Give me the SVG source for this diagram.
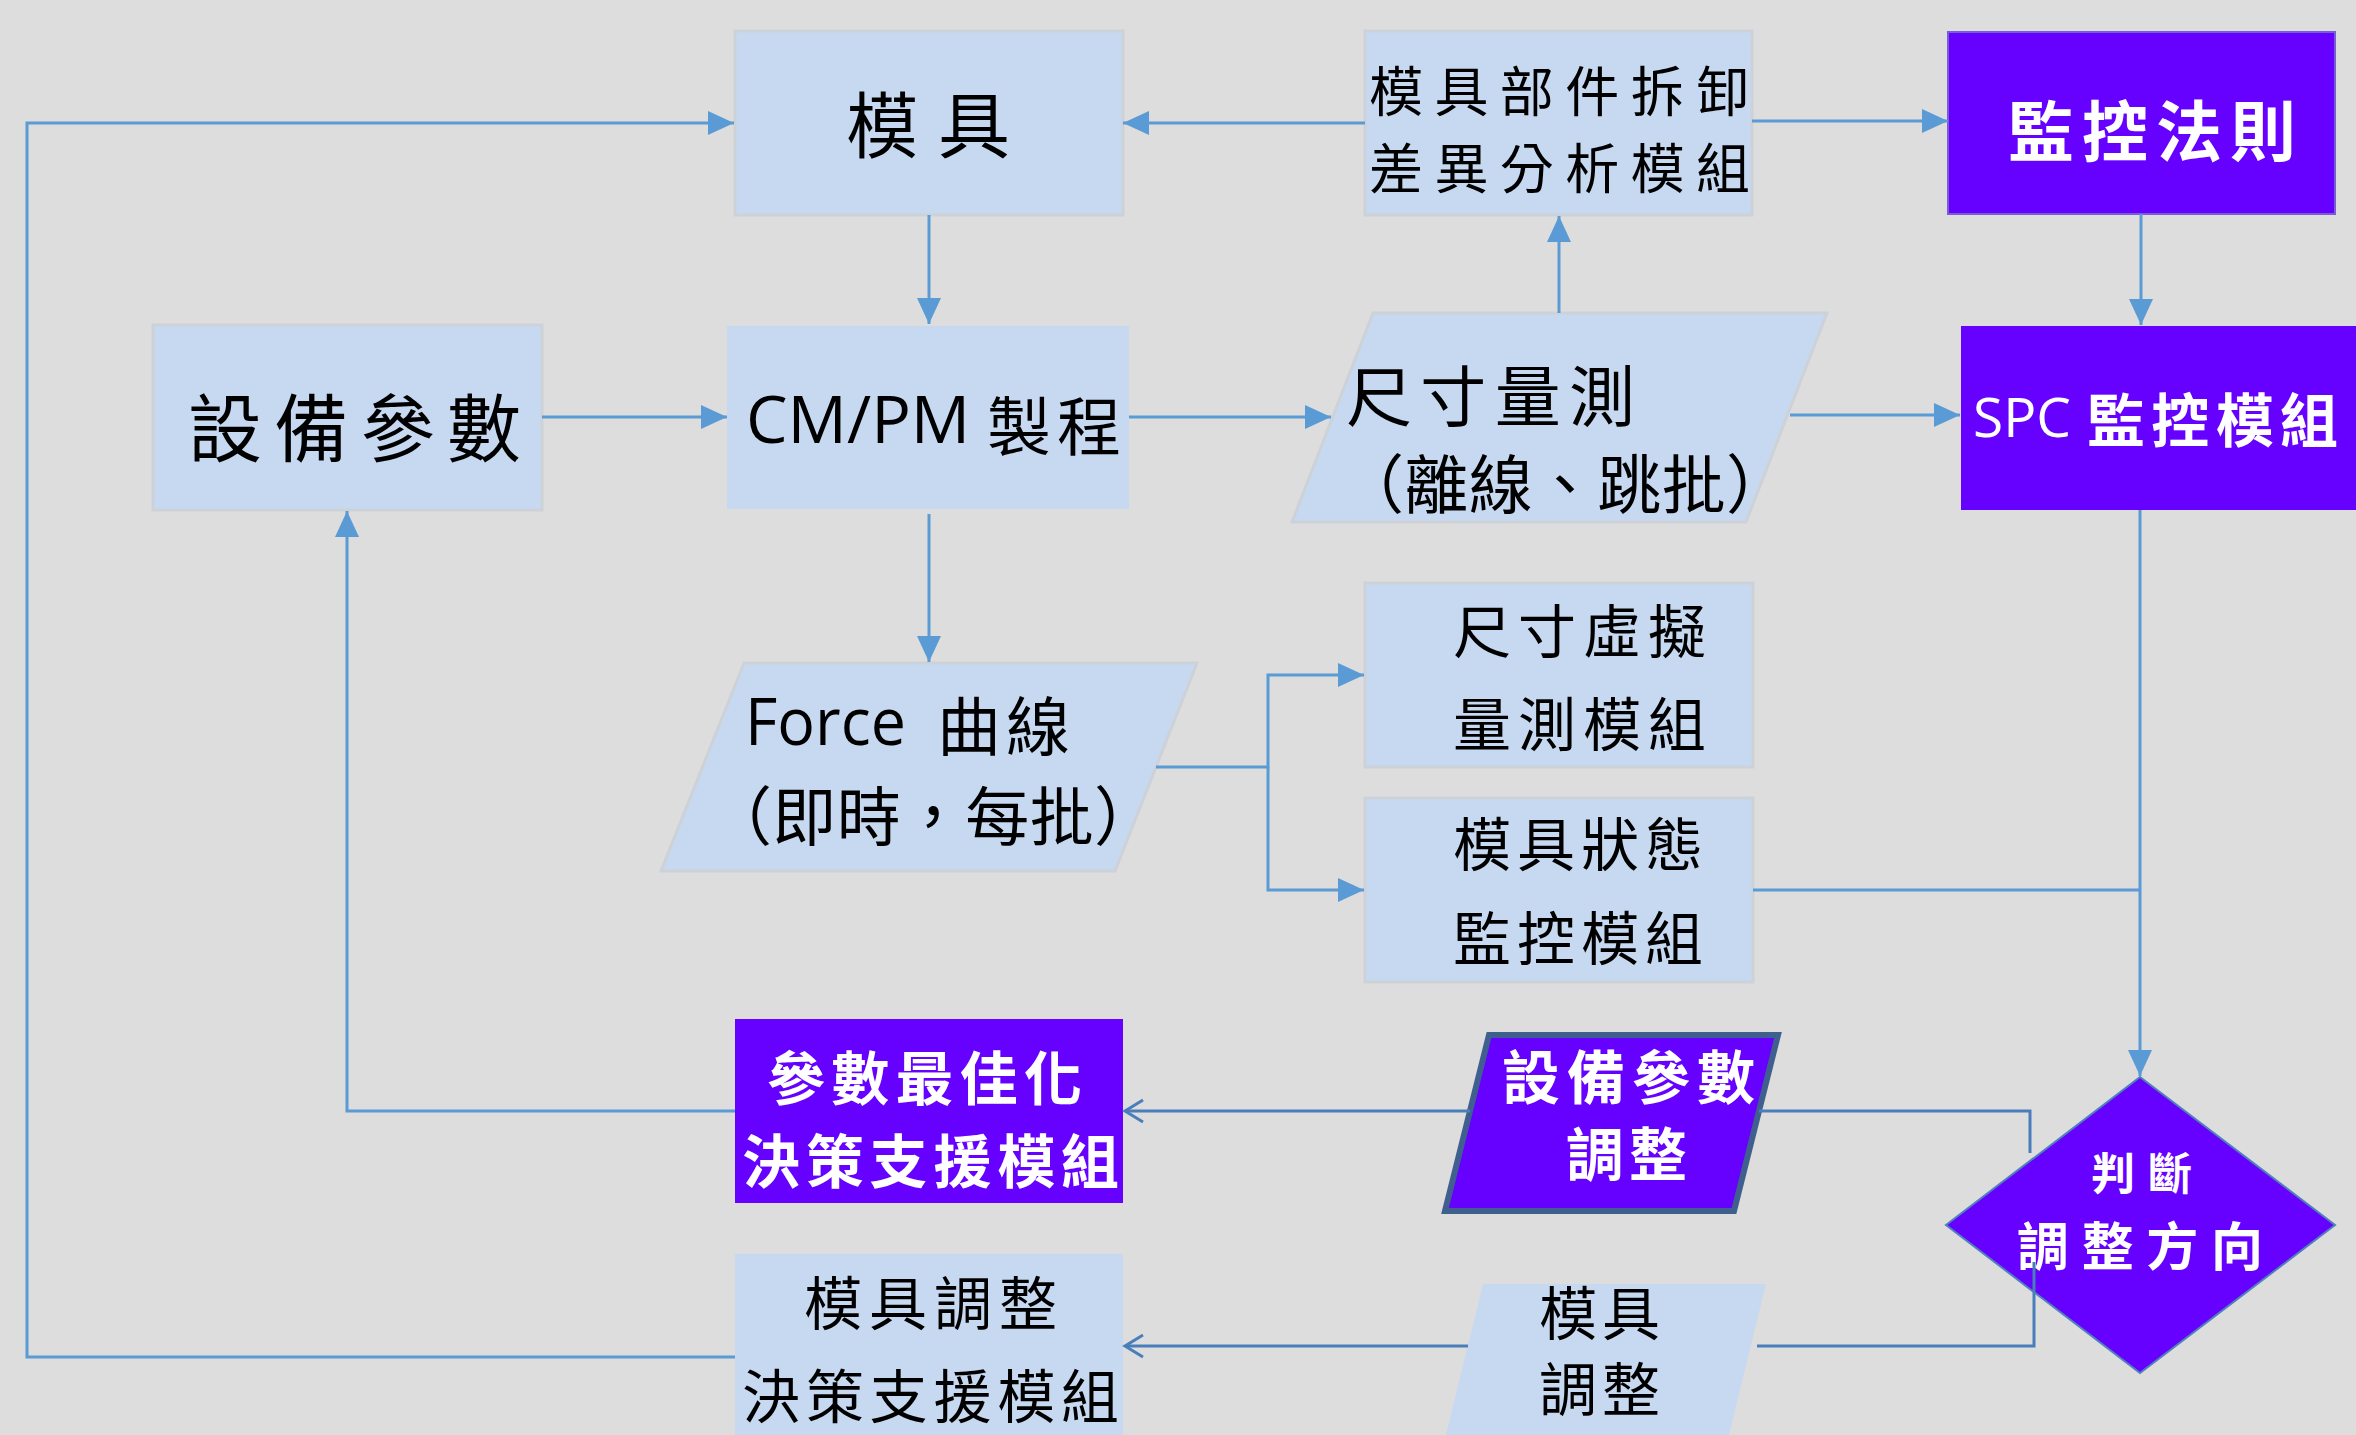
<svg xmlns="http://www.w3.org/2000/svg" width="2356" height="1435" viewBox="0 0 2356 1435">
<defs>
<style>
.bg{fill:#DDDDDD}
.lb{fill:#C6D9F0;stroke:#CDD2D9;stroke-width:3}
.pu{fill:#6600FF;stroke:#7A5CD6;stroke-width:2}
.cj{font-family:"Noto Sans CJK TC","Noto Sans CJK SC",sans-serif;fill:#000}
.lt{font-family:"Open Sans","Noto Sans",sans-serif;fill:#000}
.w{fill:#FFFFFF;font-weight:bold}
.c{fill:none;stroke:#5B9BD5;stroke-width:3}
.d{fill:none;stroke:#4A7EBB;stroke-width:3}
</style>
<marker id="ah" markerUnits="userSpaceOnUse" markerWidth="28" markerHeight="26" refX="26" refY="12" orient="auto" viewBox="0 0 28 26">
<path d="M0,0 L26,12 L0,24 z" fill="#5B9BD5"/>
</marker>
<marker id="oa" markerUnits="userSpaceOnUse" markerWidth="24" markerHeight="28" refX="20" refY="13" orient="auto" viewBox="0 0 24 28">
<path d="M2,2 L20,13 L2,24" fill="none" stroke="#4A7EBB" stroke-width="3"/>
</marker>
</defs>
<rect class="bg" x="0" y="0" width="2356" height="1435"/>

<g id="n-mold">
<rect class="lb" x="735" y="31" width="388" height="184"/>
<text class="cj" x="846" y="152" font-size="72" textLength="164" lengthAdjust="spacing">模具</text>
</g>
<g id="n-equip-param">
<rect class="lb" x="153" y="325" width="389" height="185"/>
<text class="cj" x="188" y="456" font-size="74" textLength="333" lengthAdjust="spacing">設備參數</text>
</g>
<g id="n-process">
<rect x="727" y="326" width="402" height="183" fill="#C6D9F0"/>
<text class="lt" x="746" y="443" font-size="66">CM/PM</text>
<text class="cj" x="987" y="450" font-size="64" textLength="134" lengthAdjust="spacing">製程</text>
</g>
<g id="n-disassembly">
<rect class="lb" x="1365" y="31" width="387" height="184"/>
<text class="cj" x="1369" y="112" font-size="54" textLength="381" lengthAdjust="spacing">模具部件拆卸</text>
<text class="cj" x="1369" y="189" font-size="54" textLength="381" lengthAdjust="spacing">差異分析模組</text>
</g>
<g id="n-rules">
<rect class="pu" x="1948" y="32" width="387" height="182"/>
<text class="cj w" x="2008" y="156" font-size="66" textLength="288" lengthAdjust="spacing">監控法則</text>
</g>
<g id="n-measure">
<polygon class="lb" points="1373,313 1827,313 1746,522 1292,522"/>
<text class="cj" x="1346" y="421" font-size="66" textLength="289" lengthAdjust="spacing">尺寸量測</text>
<text class="cj" x="1340" y="508" font-size="64" textLength="450" lengthAdjust="spacing">（離線、跳批）</text>
</g>
<g id="n-spc">
<rect x="1961" y="326" width="400" height="184" fill="#6600FF"/>
<text class="lt" x="1973" y="437" font-size="55" style="fill:#FFFFFF">SPC</text>
<text class="cj w" x="2087" y="442" font-size="58" textLength="251" lengthAdjust="spacing">監控模組</text>
</g>
<g id="n-force">
<polygon class="lb" points="744,663 1197,663 1115,871 661,871"/>
<text class="lt" x="745" y="745" font-size="66" textLength="161" lengthAdjust="spacingAndGlyphs">Force</text>
<text class="cj" x="937" y="750" font-size="64" textLength="133" lengthAdjust="spacing">曲線</text>
<text class="cj" x="708" y="840" font-size="64" textLength="450" lengthAdjust="spacing">（即時，每批）</text>
</g>
<g id="n-virtual">
<rect class="lb" x="1365" y="583" width="388" height="184"/>
<text class="cj" x="1453" y="653" font-size="58" textLength="253" lengthAdjust="spacing">尺寸虛擬</text>
<text class="cj" x="1453" y="746" font-size="58" textLength="253" lengthAdjust="spacing">量測模組</text>
</g>
<g id="n-state">
<rect class="lb" x="1365" y="798" width="388" height="184"/>
<text class="cj" x="1453" y="866" font-size="58" textLength="250" lengthAdjust="spacing">模具狀態</text>
<text class="cj" x="1453" y="960" font-size="58" textLength="250" lengthAdjust="spacing">監控模組</text>
</g>
<g id="n-param-opt">
<rect x="735" y="1019" width="388" height="184" fill="#6600FF"/>
<text class="cj w" x="767" y="1100" font-size="58" textLength="315" lengthAdjust="spacing">參數最佳化</text>
<text class="cj w" x="742" y="1183" font-size="58" textLength="377" lengthAdjust="spacing">決策支援模組</text>
</g>
<g id="n-equip-adjust">
<polygon points="1489,1035 1778,1035 1734,1211 1445,1211" fill="#6600FF" stroke="#3F5F8F" stroke-width="6"/>
<text class="cj w" x="1502" y="1099" font-size="58" textLength="253" lengthAdjust="spacing">設備參數</text>
<text class="cj w" x="1566" y="1176" font-size="58" textLength="121" lengthAdjust="spacing">調整</text>
</g>
<g id="n-decide">
<polygon points="2140,1077 2335,1225 2140,1373 1946,1225" fill="#6600FF" stroke="#4F81BD" stroke-width="2"/>
<text class="cj w" x="2091" y="1190" font-size="44" textLength="101" lengthAdjust="spacing">判斷</text>
<text class="cj w" x="2017" y="1266" font-size="52" textLength="246" lengthAdjust="spacing">調整方向</text>
</g>
<g id="n-mold-adjust">
<polygon points="1483,1284 1766,1284 1724,1455 1441,1455" fill="#C6D9F0"/>
<text class="cj" x="1539" y="1335" font-size="58" textLength="121" lengthAdjust="spacing">模具</text>
<text class="cj" x="1539" y="1411" font-size="58" textLength="121" lengthAdjust="spacing">調整</text>
</g>
<g id="n-mold-decision">
<rect x="735" y="1254" width="388" height="200" fill="#C6D9F0"/>
<text class="cj" x="804" y="1325" font-size="58" textLength="253" lengthAdjust="spacing">模具調整</text>
<text class="cj" x="742" y="1418" font-size="58" textLength="377" lengthAdjust="spacing">決策支援模組</text>
</g>

<g id="connectors">
<path class="c" d="M929,215 V324" marker-end="url(#ah)"/>
<path class="c" d="M542,417 H727" marker-end="url(#ah)"/>
<path class="c" d="M1129,417 H1331" marker-end="url(#ah)"/>
<path class="c" d="M1365,123 H1123" marker-end="url(#ah)"/>
<path class="c" d="M1752,121 H1948" marker-end="url(#ah)"/>
<path class="c" d="M1559,313 V216" marker-end="url(#ah)"/>
<path class="c" d="M2141,214 V325" marker-end="url(#ah)"/>
<path class="c" d="M1790,415 H1960" marker-end="url(#ah)"/>
<path class="c" d="M929,514 V662" marker-end="url(#ah)"/>
<path class="c" d="M1156,767 H1268 V675 H1364" marker-end="url(#ah)"/>
<path class="c" d="M1268,767 V890 H1364" marker-end="url(#ah)"/>
<path class="c" d="M1753,890 H2140"/>
<path class="c" d="M2140,510 V1076" marker-end="url(#ah)"/>
<path class="c" d="M735,1111 H347 V511" marker-end="url(#ah)"/>
<path class="c" d="M735,1357 H27 V123 H734" marker-end="url(#ah)"/>
<path class="d" d="M2030,1153 V1111 H1759"/>
<path class="d" d="M1470,1111 H1125" marker-end="url(#oa)"/>
<path class="d" d="M2034,1262 V1346 H1757"/>
<path class="d" d="M1468,1346 H1125" marker-end="url(#oa)"/>
</g>
</svg>
